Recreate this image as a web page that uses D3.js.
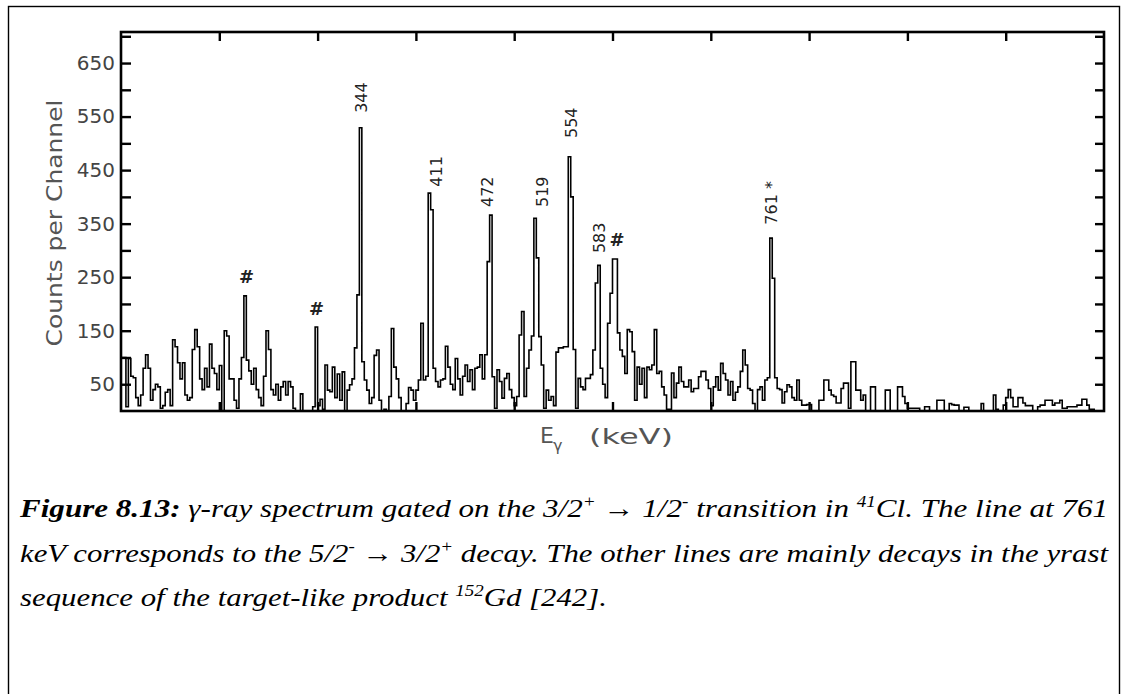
<!DOCTYPE html>
<html><head><meta charset="utf-8">
<script src="https://cdn.jsdelivr.net/npm/d3@7"></script>
<style>body{margin:0;background:#fff}svg{display:block}</style>
</head><body>
<script>
// ---- data: gamma-ray spectrum, counts per channel (400 channels) ----
const counts = [
100,100,8,98,65,62,25,10,30,80,
105,80,20,40,50,45,5,10,35,40,
10,133,120,90,60,90,30,20,25,115,
152,120,60,40,80,45,125,80,70,40,
85,0,150,140,60,60,20,5,60,100,
215,95,75,50,80,40,25,10,65,150,
115,40,30,50,20,45,55,30,55,45,
5,0,0,32,0,0,0,0,8,157,
10,22,3,86,39,36,82,25,69,20,
73,0,39,49,60,118,217,529,92,58,
39,14,25,104,114,20,0,3,0,27,
154,82,60,25,0,0,14,44,39,20,
39,58,164,58,65,407,376,80,55,45,
58,60,121,82,50,40,98,60,30,65,
86,55,77,40,80,82,105,60,105,279,
366,64,5,77,55,24,61,70,40,25,
10,27,142,186,27,80,114,140,360,286,
139,86,5,39,20,27,10,110,118,118,
120,120,475,400,115,5,61,45,40,61,
61,68,114,239,272,80,50,25,164,220,
284,284,146,114,102,70,152,148,111,20,
82,50,80,25,82,77,86,152,70,74,
45,30,3,3,71,25,52,82,55,45,
45,58,36,42,42,64,74,74,58,42,
10,45,64,39,89,70,58,30,55,20,
35,45,74,114,86,42,39,14,0,40,
45,20,58,62,323,248,62,42,40,15,
36,49,45,25,20,58,20,11,11,12,
12,0,0,0,20,20,58,58,39,30,
27,15,15,42,52,52,5,92,92,39,
39,20,30,0,0,45,45,0,0,0,
0,39,39,0,0,0,45,45,27,14,
5,5,5,5,5,0,0,8,8,0,
0,0,20,20,20,0,0,14,12,11,
11,0,0,7,7,0,0,0,0,0,
14,0,0,0,0,30,3,0,0,11,
25,40,25,8,8,25,25,15,10,10,
10,0,0,8,11,11,20,20,20,11,
15,15,20,5,5,8,8,8,8,11,
11,22,22,11,3,3,0,0,0,0
];
const nChannels = 400;
const yTicks = [50,100,150,200,250,300,350,400,450,500,550,600,650,700];
const yTickLabels = [50,150,250,350,450,550,650];
const xTicks = [40,80,120,160,200,240,280,320,360];
// peak annotations in data units (channel, counts where the label starts)
const peakLabels = [
  {text:"344", ch:100.1, count:557},
  {text:"411", ch:130.6, count:419},
  {text:"472", ch:151.4, count:381},
  {text:"519", ch:173.8, count:381},
  {text:"554", ch:185.6, count:510},
  {text:"583", ch:197.0, count:295},
  {text:"761 *", ch:267.0, count:348}
];
const hashMarks = [
  {ch:51.1, count:251},
  {ch:79.6, count:192},
  {ch:201.8, count:320}
];
const caption = [
  [["Figure 8.13:","b"],[" γ-ray spectrum gated on the 3/2",""],["+","sup"],[" → 1/2",""],["-","sup"],[" transition in ",""],["41","sup"],["Cl. The line at 761",""]],
  [["keV corresponds to the 5/2",""],["-","sup"],[" → 3/2",""],["+","sup"],[" decay. The other lines are mainly decays in the yrast",""]],
  [["sequence of the target-like product ",""],["152","sup"],["Gd [242].",""]]
];

// ---- drawing ----
const W = 1127, H = 694;
const svg = d3.select("body").append("svg").attr("width", W).attr("height", H);

svg.append("rect").attr("x", 8.5).attr("y", 6.5).attr("width", 1111).attr("height", 720)
  .attr("fill", "none").attr("stroke", "#000").attr("stroke-width", 1.4);

const x = d3.scaleLinear().domain([0, nChannels]).range([121, 1104]);
const y = d3.scaleLinear().domain([0, 708]).range([411, 32]);

// histogram as step line
const pts = counts.map((v, i) => [i, v]);
pts.push([nChannels, counts[nChannels - 1]]);
const line = d3.line().x(d => x(d[0])).y(d => y(d[1])).curve(d3.curveStepAfter);
svg.append("path").attr("d", line(pts)).attr("fill", "none")
  .attr("stroke", "#000").attr("stroke-width", 1.6);

const axisFont = "DejaVu Sans, Verdana, sans-serif";

// axes
const gl = svg.append("g").attr("transform", "translate(121,0)")
  .call(d3.axisLeft(y).tickValues(yTicks).tickSize(-10).tickPadding(6)
    .tickFormat(d => yTickLabels.includes(d) ? d : ""));
const gr = svg.append("g").attr("transform", "translate(1104,0)")
  .call(d3.axisRight(y).tickValues(yTicks).tickSize(-9).tickFormat(""));
const gt = svg.append("g").attr("transform", "translate(0,32)")
  .call(d3.axisTop(x).tickValues(xTicks).tickSize(-9).tickFormat(""));
const gb = svg.append("g").attr("transform", "translate(0,411)")
  .call(d3.axisBottom(x).tickValues(xTicks).tickSize(-9).tickFormat(""));
[gl, gr, gt, gb].forEach(g => {
  g.select(".domain").remove();
  g.selectAll(".tick line").attr("stroke", "#000").attr("stroke-width", 2.4);
  g.selectAll("text").attr("font-family", axisFont).attr("font-size", 20)
    .attr("fill", "#444");
});

// frame
svg.append("rect").attr("x", x(0)).attr("y", y(708))
  .attr("width", x(nChannels) - x(0)).attr("height", y(0) - y(708))
  .attr("fill", "none").attr("stroke", "#000").attr("stroke-width", 2.6);

// axis titles
svg.append("text").attr("transform", "translate(62,223) rotate(-90)")
  .attr("text-anchor", "middle").attr("font-family", axisFont).attr("font-size", 21)
  .attr("fill", "#555")
  .attr("textLength", 247).attr("lengthAdjust", "spacingAndGlyphs")
  .text("Counts per Channel");
const xt = svg.append("g").attr("font-family", axisFont).attr("fill", "#555");
xt.append("text").attr("x", 540).attr("y", 443).attr("font-size", 22).text("E");
xt.append("text").attr("x", 553).attr("y", 451).attr("font-size", 16).text("γ");
xt.append("text").attr("x", 589).attr("y", 444).attr("font-size", 22)
  .attr("textLength", 84).attr("lengthAdjust", "spacingAndGlyphs").text("(keV)");

// peak labels
svg.append("g").selectAll("text").data(peakLabels).join("text")
  .attr("transform", d => `translate(${x(d.ch)},${y(d.count)}) rotate(-90)`)
  .attr("font-family", axisFont).attr("font-size", 16).attr("fill", "#222")
  .text(d => d.text);
svg.append("g").selectAll("text").data(hashMarks).join("text")
  .attr("x", d => x(d.ch)).attr("y", d => y(d.count))
  .attr("text-anchor", "middle").attr("dominant-baseline", "central")
  .attr("font-family", axisFont).attr("font-size", 18).attr("font-weight", "bold")
  .attr("fill", "#222").text("#");

// caption
const capY = [517, 562, 606];
const capLen = [1088, 1088, 587];
caption.forEach((segs, i) => {
  const t = svg.append("text").attr("x", 20).attr("y", capY[i])
    .attr("font-family", "Liberation Serif, Times New Roman, serif")
    .attr("font-style", "italic").attr("font-size", 26).attr("fill", "#000")
    .attr("textLength", capLen[i]).attr("lengthAdjust", "spacingAndGlyphs");
  let raised = false;
  segs.forEach(([txt, st]) => {
    const s = t.append("tspan").text(txt);
    if (st === "b") s.attr("font-weight", "bold");
    if (st === "sup") { s.attr("font-size", 16).attr("dy", -10); raised = true; }
    else if (raised) { s.attr("dy", 10); raised = false; }
  });
});
</script>
</body></html>
